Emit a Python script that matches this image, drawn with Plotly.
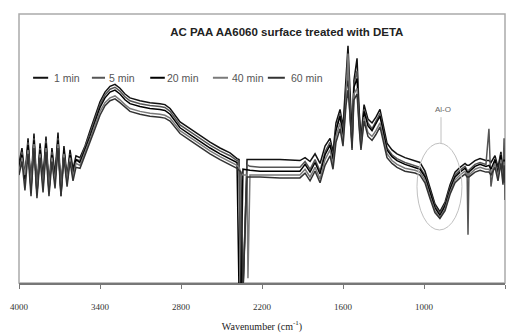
import plotly.graph_objects as go

# Wavenumber (cm-1)
wavenumber = [4000, 3978, 3956, 3933, 3911, 3889, 3867, 3844, 3822, 3800,
              3778, 3756, 3733, 3711, 3689, 3667, 3644, 3622, 3600, 3578,
              3548, 3511, 3474, 3437, 3400, 3363, 3326, 3289, 3252, 3215, 3178,
              3104, 3030, 2956, 2919,
              2881, 2844, 2807, 2733, 2659,
              2585, 2511, 2437, 2385, 2370,
              2356, 2341, 2311, 2304, 2289,
              2215, 2067, 1919, 1881, 1844,
              1807, 1770, 1733, 1696, 1674,
              1652, 1622, 1600, 1578, 1563,
              1548, 1533, 1519, 1496, 1481,
              1467, 1444, 1415, 1385, 1356,
              1326, 1304, 1274, 1237, 1200,
              1141, 1067, 1030, 993, 956,
              919, 882, 844, 807, 770,
              733, 696, 681, 674, 667,
              622, 585, 541, 519, 504,
              474, 452, 430, 415, 407,
              400]

series_names = ["1 min", "5 min", "20 min", "40 min", "60 min"]

s_1min = [1.24, 1.40, 1.10, 1.50, 1.02, 1.55, 0.98, 1.45, 1.08, 1.52,
          1.00, 1.40, 1.12, 1.56, 0.95, 1.42, 1.10, 1.38, 1.18, 1.32,
          1.30, 1.42, 1.58, 1.73, 1.88, 1.98, 2.04, 2.06, 2.02, 1.96, 1.92,
          1.89, 1.87, 1.86, 1.85,
          1.81, 1.74, 1.67, 1.60, 1.53,
          1.46, 1.40, 1.35, 1.29, 1.28,
          -0.10, -0.10, 1.28, 1.28, 1.28,
          1.28, 1.28, 1.27, 1.30, 1.26,
          1.34, 1.24, 1.42, 1.50, 1.36,
          1.66, 1.80, 1.62, 2.10, 2.46,
          2.00, 1.50, 2.10, 2.33, 1.80,
          1.50, 1.85, 1.70, 1.66, 1.72,
          1.80, 1.66, 1.45, 1.38, 1.34,
          1.30, 1.27, 1.25, 1.16, 0.98,
          0.82, 0.74, 0.84, 1.02, 1.15,
          1.20, 1.24, 1.22, 1.22, 1.22,
          1.27, 1.29, 1.27, 1.27, 1.25,
          1.32, 1.20, 1.36, 1.15, 1.30,
          1.20]

s_5min = [1.18, 1.36, 1.04, 1.46, 0.96, 1.50, 0.92, 1.40, 1.02, 1.48,
          0.94, 1.36, 1.06, 1.50, 0.90, 1.38, 1.04, 1.34, 1.12, 1.28,
          1.27, 1.40, 1.55, 1.70, 1.85, 1.95, 2.01, 2.03, 1.99, 1.93, 1.89,
          1.86, 1.84, 1.83, 1.82,
          1.78, 1.71, 1.64, 1.57, 1.50,
          1.43, 1.37, 1.32, 1.27, 1.26,
          -0.10, -0.10, 1.22, 1.22, 1.21,
          1.20, 1.20, 1.20, 1.26, 1.18,
          1.28, 1.16, 1.36, 1.46, 1.30,
          1.60, 1.76, 1.56, 2.00, 2.20,
          1.70, 1.46, 2.06, 2.20, 1.76,
          1.46, 1.80, 1.66, 1.60, 1.68,
          1.76, 1.60, 1.40, 1.33, 1.29,
          1.25, 1.22, 1.20, 1.12, 0.95,
          0.80, 0.72, 0.82, 0.99, 1.12,
          1.17, 1.21, 1.17, 0.50, 1.17,
          1.23, 1.25, 1.23, 1.60, 1.00,
          1.29, 1.15, 1.34, 1.10, 1.50,
          0.86]

s_20min = [1.20, 1.33, 1.08, 1.43, 0.98, 1.48, 0.93, 1.38, 1.03, 1.45,
           0.96, 1.33, 1.08, 1.48, 0.93, 1.38, 1.05, 1.33, 1.13, 1.28,
           1.25, 1.38, 1.52, 1.67, 1.82, 1.92, 1.98, 2.00, 1.96, 1.90, 1.86,
           1.83, 1.81, 1.80, 1.79,
           1.75, 1.68, 1.61, 1.54, 1.47,
           1.40, 1.34, 1.29, 1.25, -0.10,
           -0.10, 1.18, 1.17, 1.17, 1.17,
           1.16, 1.16, 1.16, 1.23, 1.15,
           1.25, 1.13, 1.33, 1.43, 1.28,
           1.58, 1.73, 1.53, 1.98, 2.10,
           1.93, 1.43, 2.03, 2.12, 1.73,
           1.43, 1.78, 1.63, 1.58, 1.65,
           1.73, 1.58, 1.38, 1.31, 1.27,
           1.23, 1.20, 1.18, 1.10, 0.93,
           0.78, 0.70, 0.80, 0.97, 1.10,
           1.15, 1.19, 1.15, 1.15, 1.15,
           1.21, 1.23, 1.21, 1.22, 1.18,
           1.28, 1.13, 1.33, 1.08, 1.28,
           1.10]

s_40min = [1.16, 1.30, 1.12, 1.38, 1.00, 1.44, 0.96, 1.34, 1.00, 1.40,
           0.98, 1.30, 1.04, 1.44, 0.96, 1.34, 1.06, 1.30, 1.10, 1.24,
           1.22, 1.35, 1.49, 1.64, 1.78, 1.87, 1.92, 1.94, 1.90, 1.85, 1.81,
           1.78, 1.76, 1.75, 1.74,
           1.71, 1.64, 1.58, 1.51, 1.44,
           1.37, 1.31, 1.26, 1.22, 1.20,
           1.14, 1.12, 1.12, 0.05, 1.12,
           1.12, 1.12, 1.12, 1.18, 1.10,
           1.20, 1.08, 1.28, 1.38, 1.22,
           1.52, 1.66, 1.46, 1.90, 2.38,
           1.80, 1.40, 1.96, 2.02, 1.66,
           1.40, 1.72, 1.56, 1.52, 1.58,
           1.66, 1.52, 1.34, 1.27, 1.23,
           1.19, 1.17, 1.15, 1.07, 0.90,
           0.75, 0.68, 0.77, 0.94, 1.07,
           1.12, 1.16, 1.12, 1.12, 1.12,
           1.18, 1.20, 1.18, 1.18, 1.14,
           1.24, 1.10, 1.28, 1.04, 1.26,
           1.06]

s_60min = [1.12, 1.26, 0.96, 1.34, 0.90, 1.40, 0.88, 1.30, 0.94, 1.36,
           0.90, 1.26, 0.98, 1.40, 0.90, 1.30, 1.00, 1.26, 1.06, 1.20,
           1.19, 1.32, 1.46, 1.60, 1.74, 1.84, 1.89, 1.91, 1.87, 1.82, 1.78,
           1.75, 1.73, 1.72, 1.71,
           1.68, 1.61, 1.55, 1.48, 1.41,
           1.34, 1.28, 1.23, 1.19, 1.17,
           1.15, -0.10, 1.10, 1.10, 1.10,
           1.10, 1.09, 1.09, 1.14, 1.06,
           1.16, 1.04, 1.22, 1.32, 1.18,
           1.46, 1.60, 1.42, 1.84, 2.00,
           1.76, 1.38, 1.90, 1.96, 1.62,
           1.38, 1.68, 1.52, 1.48, 1.54,
           1.62, 1.48, 1.30, 1.24, 1.20,
           1.16, 1.14, 1.12, 1.04, 0.88,
           0.73, 0.67, 0.75, 0.92, 1.04,
           1.09, 1.13, 1.10, 1.10, 1.10,
           1.15, 1.17, 1.15, 1.15, 1.12,
           1.20, 1.06, 1.24, 1.02, 1.22,
           1.04]

series_values = [s_1min, s_5min, s_20min, s_40min, s_60min]
series_colors = ["#111111", "#555555", "#000000", "#7a7a7a", "#333333"]

x_ticks = [4000, 3400, 2800, 2200, 1600, 1000, 400]

title_text = "AC PAA AA6060 surface treated with DETA"
x_title = "Wavenumber (cm<sup>-1</sup>)"
band_label = "Al-O"
band_ellipse = dict(x0=1052, x1=719, y0=0.55, y1=1.45)
band_label_pos = (860, 1.80)
band_leader = (874, 1.72, 1.45)

# legend layout (paper fractions): key start, key end, text start
legend_y = 0.763
legend_keys = [(0.029, 0.060, 0.068), (0.150, 0.177, 0.181), (0.270, 0.300, 0.300),
               (0.399, 0.430, 0.434), (0.512, 0.547, 0.556)]

fig = go.Figure()
for name, vals, col in zip(series_names, series_values, series_colors):
    fig.add_trace(go.Scatter(x=wavenumber, y=vals, mode="lines", name=name,
                             line=dict(color=col, width=1.5)))

fig.update_layout(
    width=509, height=335,
    margin=dict(l=19, r=4, t=14, b=42),
    paper_bgcolor="white", plot_bgcolor="white",
    font=dict(family="Liberation Sans, Arial, sans-serif", size=9, color="#333"),
    title=dict(text="<b>" + title_text + "</b>", x=0.551, xref="paper",
               xanchor="center", y=1 - 32 / 335, yref="container", yanchor="middle",
               font=dict(size=11.5, color="#222", family="Liberation Sans, Arial, sans-serif")),
    showlegend=False,
    xaxis=dict(range=[4000, 400], tickvals=x_ticks, ticktext=[str(t) for t in x_ticks],
               showline=True, linecolor="#777", linewidth=1.5, ticks="outside",
               ticklen=4, tickcolor="#777", showgrid=False, zeroline=False,
               tickfont=dict(family="Liberation Serif, Times New Roman, serif", size=9, color="#333"),
               ticklabelstandoff=10,
               title=dict(text=x_title, standoff=12,
                          font=dict(family="Liberation Serif, Times New Roman, serif", size=10, color="#222"))),
    yaxis=dict(range=[0, 2.79], visible=True, showticklabels=False, ticks="",
               showgrid=False, zeroline=False, showline=False),
)

fig.add_shape(type="rect", xref="paper", yref="paper", x0=0, x1=1, y0=0, y1=1,
              line=dict(color="#aaaaaa", width=1.5), layer="below")

# legend keys and labels
for name, col, (k0, k1, t0) in zip(series_names, series_colors, legend_keys):
    fig.add_shape(type="line", xref="paper", yref="paper", x0=k0, x1=k1,
                  y0=legend_y, y1=legend_y, line=dict(color=col, width=2))
    fig.add_annotation(xref="paper", yref="paper", x=t0, y=legend_y, text=name,
                       xanchor="left", yanchor="middle", showarrow=False,
                       font=dict(size=10.5, color="#555"))

fig.add_shape(type="circle", xref="x", yref="y", line=dict(color="#c0c0c0", width=1),
              **band_ellipse)
fig.add_shape(type="line", xref="x", yref="y", x0=band_leader[0], x1=band_leader[0],
              y0=band_leader[1], y1=band_leader[2], line=dict(color="#c0c0c0", width=1))
fig.add_annotation(x=band_label_pos[0], y=band_label_pos[1], text=band_label,
                   showarrow=False, font=dict(size=8, color="#666"))

fig.write_html("out.html", config={"displayModeBar": False},
               post_script="document.body.style.margin='0';document.body.style.padding='0';")
